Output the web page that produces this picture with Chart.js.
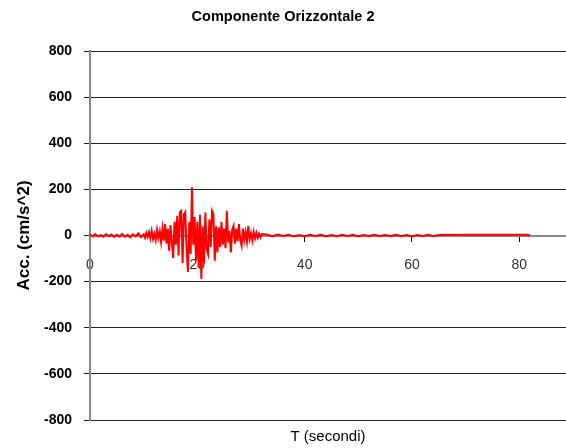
<!DOCTYPE html>
<html>
<head>
<meta charset="utf-8">
<script src="https://cdn.jsdelivr.net/npm/chart.js@4"></script>
<style>
  html, body { margin: 0; padding: 0; background: #fff; }
  #wrap { width: 566px; height: 448px; }
</style>
</head>
<body>
<div id="wrap"><canvas id="accChart"></canvas></div>
<script>
// Componente Orizzontale 2 - accelerogramma
const tempo = [
  0, 0.5, 1, 1.5, 2, 2.5, 3, 3.5, 4, 4.5, 5, 5.5, 6, 6.5, 7, 7.5, 8, 8.5, 9, 9.5, 10,
  10.25, 10.5, 10.75, 11, 11.25, 11.5, 11.75, 12, 12.25, 12.5, 12.75, 13, 13.25, 13.5, 13.75,
  14, 14.25, 14.5, 14.75, 15, 15.25, 15.5, 15.75, 16, 16.25, 16.5, 16.75, 17, 17.25, 17.5, 17.75,
  18, 18.25, 18.5, 18.75, 19, 19.25, 19.5, 19.75, 20, 20.25, 20.5, 20.75, 21, 21.25, 21.5, 21.75,
  22, 22.25, 22.5, 22.75, 23, 23.25, 23.5, 23.75, 24, 24.25, 24.5, 24.75, 25, 25.25, 25.5, 25.75,
  26, 26.25, 26.5, 26.75, 27, 27.25, 27.5, 27.75, 28, 28.25, 28.5, 28.75, 29, 29.25, 29.5, 29.75,
  30, 30.25, 30.5, 30.75, 31, 31.25, 31.5, 31.75, 32,
  33, 34, 35, 36, 37, 38, 39, 40, 41, 42, 43, 44, 45, 46, 47, 48, 49, 50, 51, 52,
  53, 54, 55, 56, 57, 58, 59, 60, 61, 62, 63, 64, 65,
  70, 75, 80, 81.5, 82
];
const accelerazione = [
  4, -3, 5, -4, 2, -5, 6, -3, 4, -6, 3, -4, 7, -5, 3, -8, 6, -4, 9, -7, 5,
  -10, 12, -6, 15, -12, 20, -15, 8, -20, 25, -10, 18, -28, 30, -22,
  50, -35, 30, -66, 45, -30, -97, 60, -40, 85, -87, 100, 107, -119, 93, 102,
  -60, -158, 60, -80, 209, -40, 80, -109, 60, -140, 90, -188, 40, -120, 100, -60,
  -80, 70, -50, 107, 93, -109, 40, -73, 35, -50, 58, -40, 30, -55, 107, -30,
  20, -73, 25, 42, -35, 30, -25, 50, -20, -44, 30, -20, 15, -25, 42, -15,
  10, -22, 15, -12, 12, -10, 8, -8, 6,
  4, -3, 4, -2, 3, -3, 2, -3, 3, -2, 3, -3, 2, -3, 3, -2, 3, -3, 2, -2,
  3, -2, 2, -2, 3, -2, 2, -3, 2, -2, 3, -2, 2,
  3, 3, 3, 3, 0
];
const tickY = [-800, -600, -400, -200, 0, 200, 400, 600, 800];
const tickX = [0, 20, 40, 60, 80];

const punti = tempo.map((t, i) => ({ x: t, y: accelerazione[i] }));

new Chart(document.getElementById("accChart"), {
  type: "line",
  data: {
    datasets: [
      {
        label: "Acc.",
        data: punti,
        borderColor: "#ff0000",
        borderWidth: 2,
        pointRadius: 0,
        tension: 0,
        fill: false,
      },
    ],
  },
  options: {
    responsive: true,
    maintainAspectRatio: false,
    animation: false,
    events: [],
    layout: { padding: { left: 0, right: 0, top: 0, bottom: 0 } },
    plugins: {
      legend: { display: false },
      tooltip: { enabled: false },
      title: {
        display: true,
        text: "Componente Orizzontale 2",
        color: "#000",
        font: { family: "Liberation Sans", size: 14.5, weight: "bold", lineHeight: 1.2 },
        padding: { top: 8.5, bottom: 25.1 },
      },
      subtitle: {
        display: true,
        position: "bottom",
        fullSize: false,
        text: "T (secondi)",
        color: "#000",
        font: { family: "Liberation Sans", size: 15, lineHeight: 1.2 },
        padding: { top: 8, bottom: 2 },
      },
    },
    scales: {
      x: {
        type: "linear",
        position: { y: 0 },
        min: 0,
        max: 88.7,
        afterFit: (s) => { s.height = 0; },
        afterBuildTicks: (s) => { s.ticks = tickX.map((v) => ({ value: v })); },
        ticks: {
          color: "#333",
          padding: 16,
          maxRotation: 0,
          font: { family: "Liberation Sans", size: 14 },
        },
        grid: {
          drawOnChartArea: false,
          drawTicks: true,
          tickLength: 5,
          color: "#000",
        },
        border: { color: "#888", width: 2 },
      },
      y: {
        min: -800,
        max: 800,
        afterFit: (s) => { s.width = 90; },
        afterBuildTicks: (s) => { s.ticks = tickY.map((v) => ({ value: v })); },
        ticks: {
          color: "#000",
          padding: 12,
          font: { family: "Liberation Sans", size: 14, weight: "bold" },
        },
        grid: { color: "#222", lineWidth: 1, tickLength: 6 },
        border: { color: "#888", width: 2 },
        title: {
          display: true,
          text: "Acc. (cm/s^2)",
          color: "#000",
          font: { family: "Liberation Sans", size: 17, weight: "bold", lineHeight: 1.2 },
          padding: { top: 14, bottom: 0 },
        },
      },
    },
  },
});
</script>
</body>
</html>
